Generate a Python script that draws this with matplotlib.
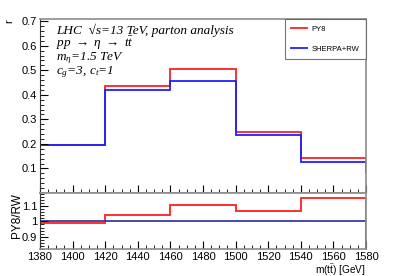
import numpy as np
import matplotlib
matplotlib.use("Agg")
import matplotlib.pyplot as plt
from matplotlib.ticker import MultipleLocator

# bin edges (GeV), with one neighbour bin on each side of the shown range
edges = [1360, 1380, 1420, 1460, 1500, 1540, 1580, 1600]
py8 = [0.10, 0.197, 0.437, 0.504, 0.249, 0.144, 0.085]
sherpa_rw = [0.10, 0.195, 0.420, 0.455, 0.236, 0.126, 0.085]

ratio_edges = [1380, 1420, 1460, 1500, 1540, 1580]
ratio_py8 = [0.989, 1.041, 1.110, 1.069, 1.153]
ratio_rw = [1.0, 1.0, 1.0, 1.0, 1.0]

info_lines = ["LHC  \u221as=13 TeV, parton analysis",
              "pp $\\rightarrow$ \u03b7 $\\rightarrow$ t$\\bar{t}$",
              "m$_{\\eta}$=1.5 TeV",
              "c$_{g}$=3, c$_{t}$=1"]

RED = "#ff2020"
BLUE = "#2020ff"
FRAME = "#8c8c8c"
W, H = 407, 276

plt.rcParams["font.family"] = ["Liberation Sans", "DejaVu Sans"]
plt.rcParams["mathtext.fontset"] = "custom"
plt.rcParams["mathtext.rm"] = "Liberation Serif:italic"
plt.rcParams["mathtext.it"] = "Liberation Serif:italic"
plt.rcParams["mathtext.sf"] = "Liberation Sans"

fig = plt.figure(figsize=(W / 100, H / 100), dpi=100)
ax = fig.add_axes([0.0983, 0.3007, 0.8010, 0.6313])
rax = fig.add_axes([0.0983, 0.0978, 0.8010, 0.2029])

ax.stairs(py8, edges, color=RED, lw=1.3, label="PY8")
ax.stairs(sherpa_rw, edges, color=BLUE, lw=1.3, label="SHERPA+RW")
ax.set_xlim(1380, 1580)
ax.set_ylim(0.0, 0.71)
ax.set_yticks([0.1, 0.2, 0.3, 0.4, 0.5, 0.6, 0.7])
ax.yaxis.set_minor_locator(MultipleLocator(0.02))
ax.xaxis.set_major_locator(MultipleLocator(20))
ax.xaxis.set_minor_locator(MultipleLocator(5))
ax.tick_params(labelbottom=False)

rax.stairs(ratio_py8, ratio_edges, color=RED, lw=1.3)
rax.stairs(ratio_rw, ratio_edges, color="#3a3aa6", lw=1.3)
rax.set_xlim(1380, 1580)
rax.set_ylim(0.82, 1.185)
rax.set_yticks([0.9, 1.0, 1.1])
rax.set_yticklabels(["0.9", "1", "1.1"])
rax.yaxis.set_minor_locator(MultipleLocator(0.02))
rax.xaxis.set_major_locator(MultipleLocator(20))
rax.xaxis.set_minor_locator(MultipleLocator(5))

for a in (ax, rax):
    a.tick_params(which="both", direction="in", top=False, right=False,
                  labelsize=8, pad=2, color="black")
    a.tick_params(which="major", length=6, width=0.8)
    a.tick_params(which="minor", length=3, width=0.6)
    for side in ("top", "right", "bottom"):
        a.spines[side].set_color(FRAME)
        a.spines[side].set_linewidth(1.2)
    a.spines["left"].set_color("#333333")
    a.spines["left"].set_linewidth(0.8)

# axis titles placed in figure pixels, like the ROOT canvas
fig.text(9 / W, 1 - 21 / H, "r", rotation=90, ha="center", va="center", fontsize=8)
fig.text(17 / W, 1 - 216 / H, "PY8/RW", rotation=90, ha="center", va="center",
         fontsize=8.5)
fig.text(366 / W, 1 - 273.5 / H, r"m(t$\bar{\mathsf{t}}$) [GeV]",
         ha="right", va="baseline", fontsize=7.3)

# the physics info block as one multi-line text
fig.text(56 / W, 1 - 24 / H, "\n".join(info_lines), ha="left", va="top",
         fontsize=9.5, linespacing=0.82,
         family=["Liberation Serif", "DejaVu Serif"], style="italic")

leg = ax.legend(loc="upper right", fontsize=5.5, frameon=True, fancybox=False,
                borderpad=0.9, labelspacing=1.6, handlelength=2.0,
                handletextpad=0.6, borderaxespad=0.0)
leg.get_frame().set_edgecolor("#555555")
leg.get_frame().set_linewidth(0.8)

fig.savefig("out.png", dpi=100)
